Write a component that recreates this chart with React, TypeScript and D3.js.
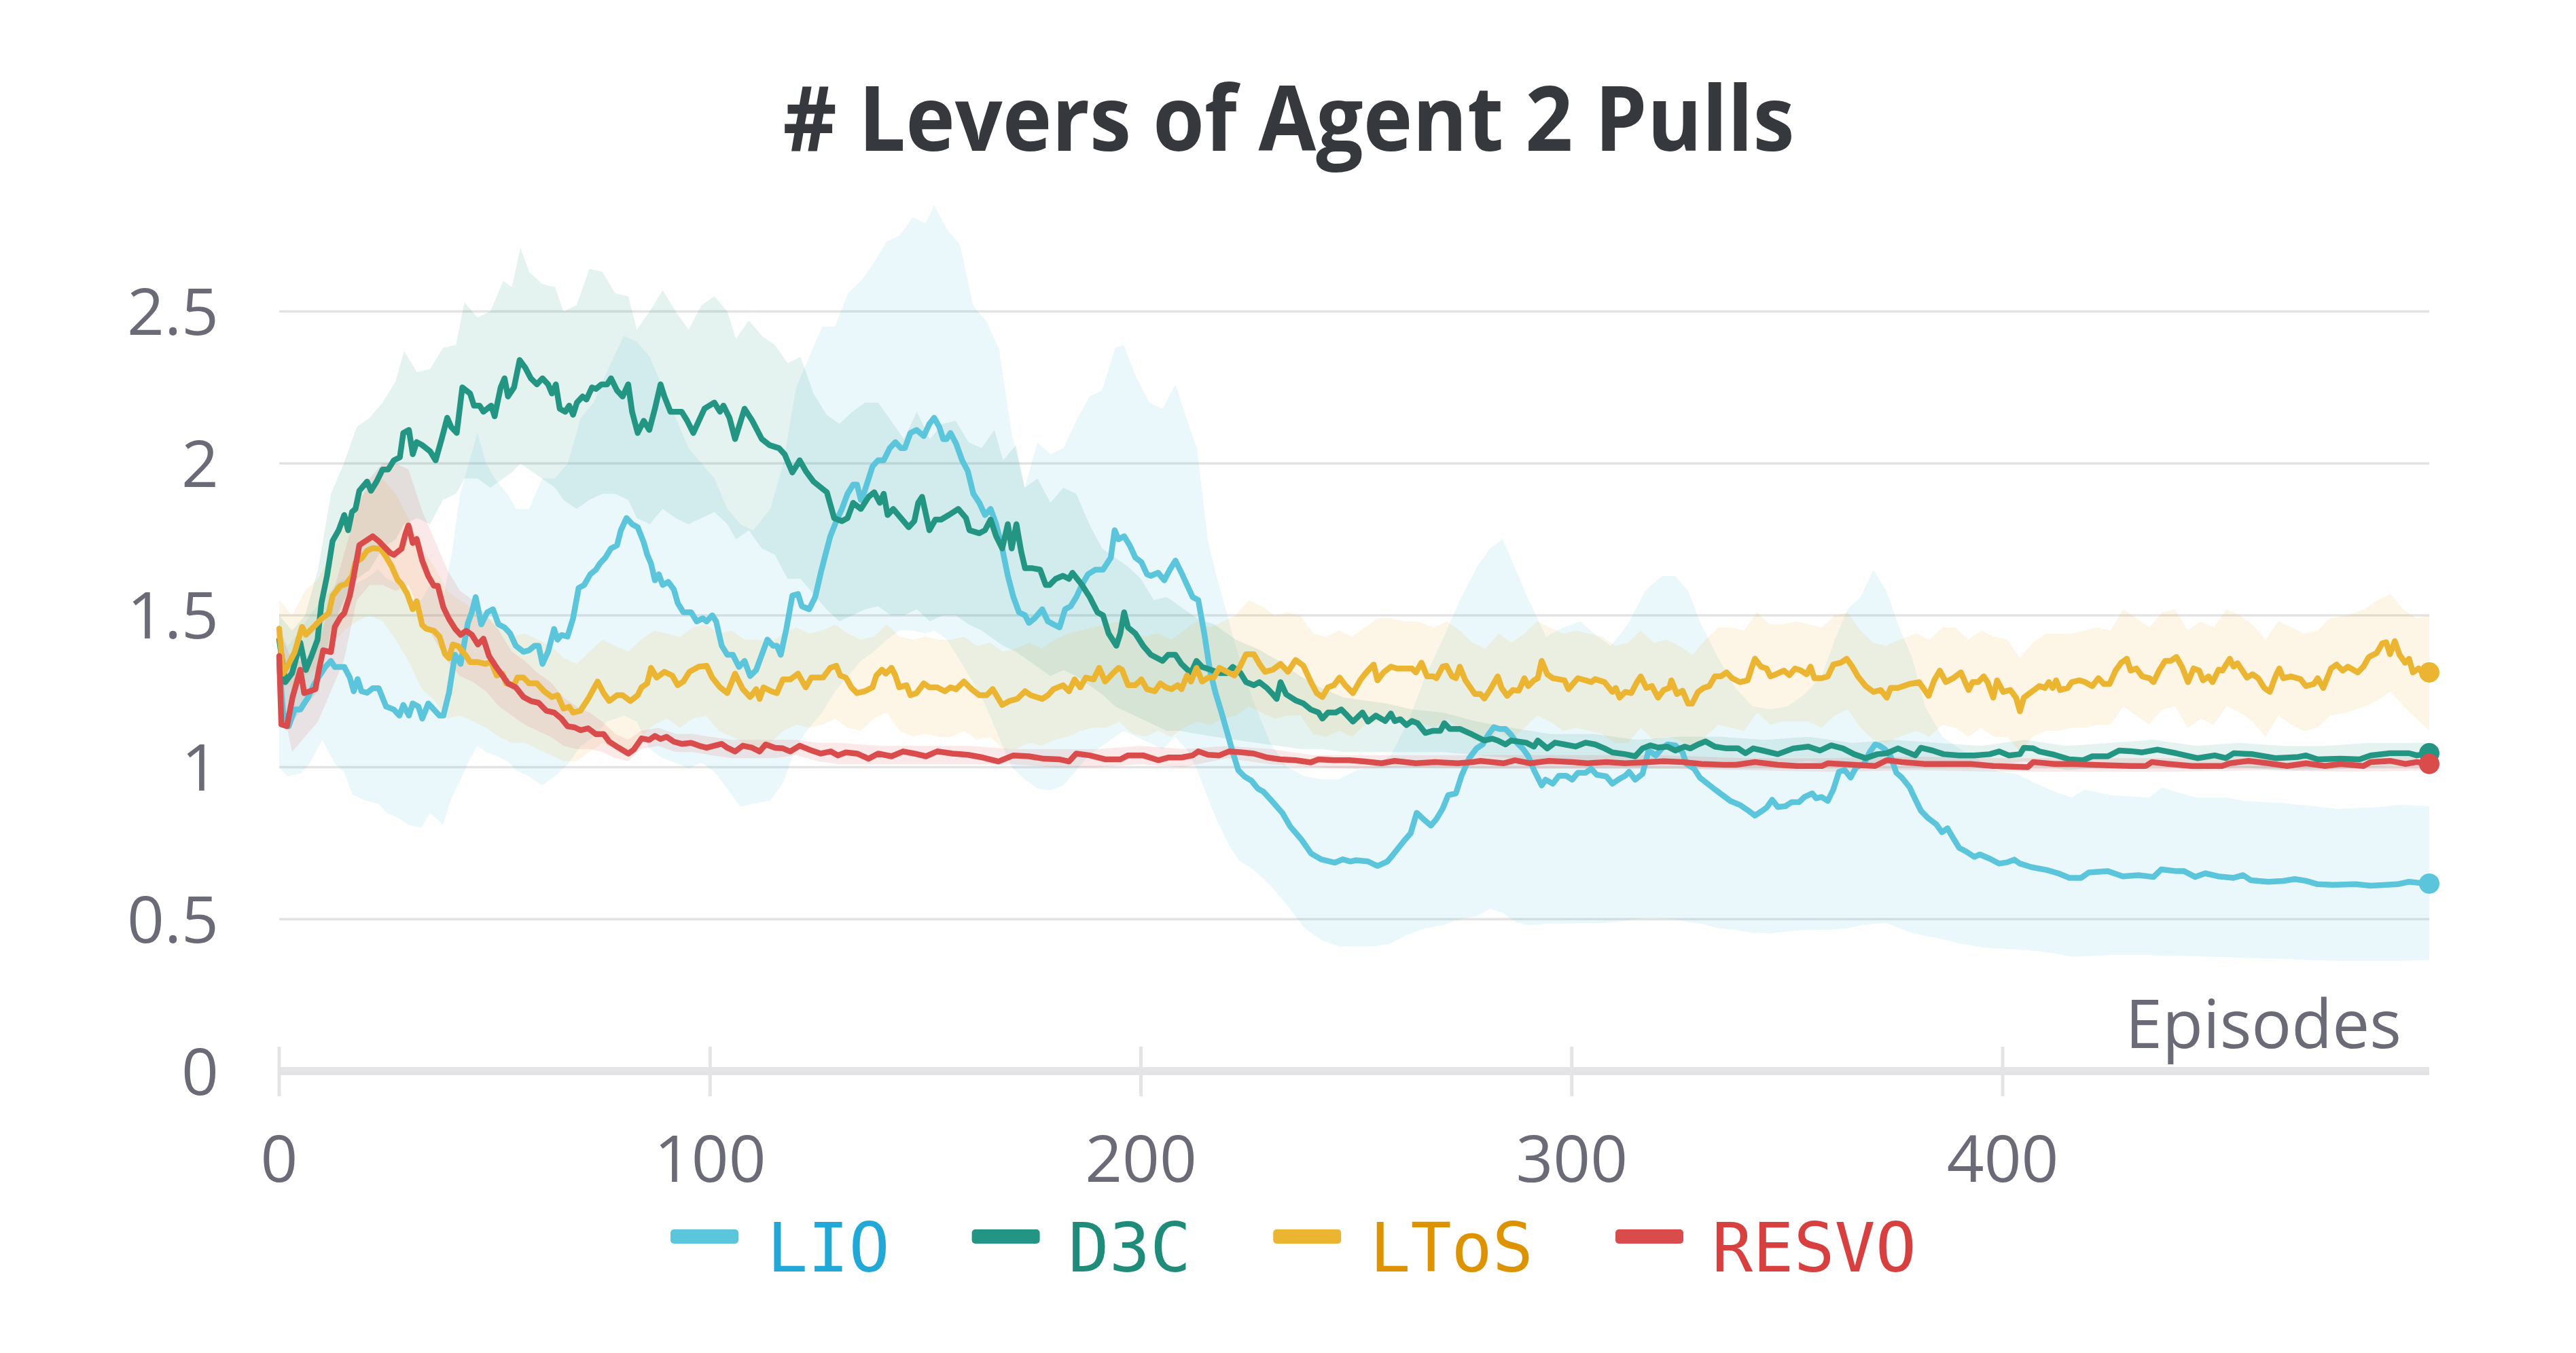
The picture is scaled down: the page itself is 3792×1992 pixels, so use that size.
import React from 'react';
import * as d3 from 'd3';

const W = 3792;
const H = 1992;

const titleText = '# Levers of Agent 2 Pulls';
const xAxisLabel = 'Episodes';
const seriesNames = ['LIO', 'D3C', 'LToS', 'RESVO'];
const lineColors = ['#5bc5db', '#229683', '#ebb431', '#da4c4c'];
const labelColors = ['#21a8d6', '#1f8c7a', '#dd9300', '#d84040'];
const xTicks = [0, 100, 200, 300, 400];
const yTicks = [0, 0.5, 1, 1.5, 2, 2.5];
const yTickLabels = ['0', '0.5', '1', '1.5', '2', '2.5'];

// [episode, mean]
const lioLine = [
  [0,1.34],[0.9,1.18],[2.2,1.135],[3.6,1.19],[4.9,1.19],[6.7,1.23],[8,1.27],[9.3,1.30],[10.7,1.33],[12,1.35],[12.9,1.33],[15.1,1.33],[16.4,1.295],[17.3,1.25],[18.2,1.29],[19.1,1.25],[20.4,1.245],[21.7,1.26],[23.1,1.26],[24.8,1.20],[26.6,1.19],[27.9,1.17],[28.8,1.205],[30.1,1.17],[31,1.21],[32.3,1.20],[33.2,1.16],[34.6,1.21],[35.9,1.19],[37.2,1.17],[38.1,1.17],[39.4,1.245],[40.8,1.37],[42.1,1.34],[43.8,1.475],[44.7,1.51],[45.6,1.56],[46.9,1.47],[48.3,1.51],[49.6,1.52],[50.9,1.47],[52.3,1.46],[53.6,1.44],[54.9,1.40],[56.7,1.38],[58,1.385],[59.3,1.40],[60.2,1.40],[61.1,1.34],[62.4,1.38],[63.8,1.455],[64.6,1.42],[65.5,1.435],[66.9,1.43],[68.2,1.49],[69.5,1.59],[70.8,1.60],[72.2,1.635],[73.5,1.65],[74.4,1.67],[75.7,1.69],[77,1.72],[78.4,1.73],[79.3,1.78],[80.6,1.82],[81.9,1.80],[83.2,1.79],[84.6,1.74],[85.4,1.70],[86.3,1.67],[87.2,1.615],[88.1,1.635],[89,1.60],[90.3,1.61],[91.6,1.585],[92.5,1.54],[93.8,1.51],[95.6,1.51],[96.9,1.48],[98.3,1.49],[99.2,1.48],[100.5,1.50],[101.4,1.48],[102.7,1.40],[104,1.37],[105.3,1.37],[106.7,1.33],[108,1.35],[109.3,1.30],[110.7,1.32],[112,1.37],[113.3,1.42],[114.6,1.40],[115.5,1.40],[116.4,1.37],[117.7,1.455],[119.1,1.565],[120.4,1.57],[121.3,1.53],[123,1.52],
  [124.4,1.56],[125.7,1.64],[126.6,1.69],[127.9,1.76],[129.3,1.81],[130.6,1.85],[131.9,1.90],[133.2,1.93],[134.1,1.93],[135,1.88],[135.9,1.91],[137.7,1.99],[139,2.01],[140.3,2.01],[141.7,2.05],[143,2.07],[144.3,2.05],[145.2,2.05],[146.5,2.10],[147.9,2.11],[149.6,2.09],[150.9,2.13],[152,2.15],[153.2,2.12],[154.1,2.08],[154.9,2.08],[155.8,2.10],[157.1,2.065],[158.5,2.01],[159.8,1.975],[161.1,1.90],[162.5,1.87],[163.8,1.83],[165.1,1.85],[166.4,1.80],[167.8,1.72],[169.1,1.63],[170.4,1.56],[171.7,1.51],[173.1,1.50],[174,1.475],[175.3,1.49],[177.1,1.52],[178.4,1.48],[179.7,1.47],[181.1,1.46],[182.4,1.52],[183.7,1.53],[185,1.56],[186.3,1.60],[187.7,1.635],[189.4,1.65],[191.2,1.65],[193,1.69],[193.9,1.78],[194.8,1.75],[196.1,1.76],[197.4,1.73],[198.7,1.69],[200.1,1.675],[201.4,1.635],[202.3,1.63],[204,1.64],[205.4,1.615],[206.7,1.65],[208,1.68],[209.4,1.64],[210.7,1.60],[212,1.56],[213.3,1.55],[214.7,1.44],[216,1.32],[217.3,1.245],[218.7,1.18],[220,1.115],[221.3,1.05],[222.6,0.99],[224,0.97],[225.7,0.955],[227.1,0.93],[228.4,0.92],
  [230.5,0.887],[232.8,0.85],[234.6,0.806],[237.3,0.761],[239.5,0.716],[241.8,0.697],[245,0.686],[246.8,0.697],[248.6,0.69],[249.9,0.694],[252.7,0.69],[254.9,0.675],[257.2,0.69],[258.5,0.712],[260.8,0.753],[262.6,0.783],[264,0.85],[265.5,0.83],[267.3,0.808],[268.6,0.83],[270,0.863],[271.3,0.908],[273.1,0.914],[274.4,0.972],[276.2,1.03],[277.9,1.062],[279.3,1.075],[280.6,1.107],[281.9,1.132],[283.2,1.126],[284.6,1.126],[285.9,1.107],[287.2,1.081],[288.6,1.062],[289.9,1.036],[291.2,0.991],[293,0.94],[293.9,0.959],[295.6,0.946],[297,0.972],[298.7,0.972],[300.1,0.959],[301.4,0.982],[303.2,0.982],[304.5,0.995],[305.8,0.975],[308,0.97],[309.4,0.946],[311.1,0.962],[312.4,0.972],[313.3,0.985],[314.7,0.959],[316.4,0.978],[317.8,1.055],[319.5,1.039],[320.9,1.062],[322.2,1.075],[324,1.072],[325.7,1.049],[326.6,1.011],[328.4,0.995],[329.7,0.966],[331.5,0.946],[333.2,0.927],[335,0.908],[336.8,0.889],[339,0.876],[340.8,0.859],[342.5,0.841],[343.9,0.854],[345.2,0.867],[346.5,0.893],[347.8,0.869],[349.6,0.872],[351,0.885],[352.7,0.885],[354,0.902],[355.8,0.914],[356.7,0.898],[358,0.902],[359.4,0.889],[360.7,0.927],[362,0.985],[363.3,0.991],[364.7,0.966],[366,1.0],[367.8,1.011],[369.1,1.049],[370.4,1.075],[371.3,1.072],[372.6,1.06],[374,1.036],[375.3,0.982],
  [376.6,0.966],[378.4,0.934],[379.7,0.895],[381,0.857],[382.8,0.831],[384.6,0.812],[385.9,0.786],[387.2,0.799],[388.5,0.767],[389.9,0.735],[391.6,0.722],[393.4,0.705],[394.7,0.713],[397,0.699],[399.2,0.683],[401,0.687],[402.7,0.696],[404,0.683],[406.7,0.671],[410.2,0.662],[412.9,0.651],[415.5,0.636],[418.2,0.636],[420,0.654],[424.4,0.658],[427.9,0.641],[431.5,0.645],[435,0.639],[436.8,0.664],[440.3,0.658],[442.1,0.658],[444.7,0.639],[447,0.651],[450,0.641],[453.6,0.636],[455.8,0.645],[457.6,0.628],[461.6,0.623],[465.1,0.626],[467.8,0.632],[470.4,0.626],[473.1,0.615],[476.6,0.613],[481.9,0.615],[485.4,0.61],[489,0.613],[491.6,0.615],[494.3,0.623],[496.9,0.619],[499,0.617],
];

const d3cLine = [
  [0,1.42],[1.4,1.28],[3,1.31],[4.9,1.41],[6.2,1.32],[7.6,1.37],[8.9,1.42],[9.8,1.54],[11.1,1.63],[12.4,1.745],[13.8,1.78],[15.1,1.83],[16,1.78],[16.9,1.84],[17.7,1.85],[18.6,1.91],[20.4,1.94],[21.3,1.91],[22.6,1.94],[24,1.98],[25.3,1.98],[26.6,2.01],[28,2.02],[28.8,2.10],[30.1,2.11],[31,2.03],[31.9,2.07],[33.2,2.06],[35,2.04],[36.3,2.01],[37.7,2.08],[39,2.15],[39.9,2.12],[41.2,2.10],[42.5,2.25],[44.3,2.23],[45.2,2.19],[46.5,2.19],[47.4,2.17],[49.2,2.19],[50,2.155],[51.4,2.25],[52.3,2.28],[53.1,2.22],[54.5,2.25],[55.8,2.34],[57.1,2.315],[58.4,2.28],[59.8,2.26],[61.1,2.28],[62.4,2.26],[63.3,2.23],[64.2,2.26],[65.1,2.18],[66.4,2.17],[67.3,2.19],[68.2,2.16],[69.1,2.20],[70.4,2.22],[71.3,2.21],[72.6,2.25],[73.5,2.245],[74.8,2.26],[76.1,2.26],[77,2.28],[78.4,2.24],[79.7,2.22],[81,2.26],[81.9,2.17],[83.2,2.10],[84.6,2.14],[85.9,2.11],[87.2,2.18],[88.5,2.26],[89.4,2.22],[90.8,2.17],[92.1,2.17],[93.4,2.17],[94.7,2.14],[96.1,2.10],[97.4,2.14],[98.7,2.18],[101,2.20],[102.3,2.17],[103.1,2.19],[104.5,2.15],[105.8,2.08],[108,2.18],[109.8,2.14],[112,2.08],[113.8,2.06],[116,2.05],[117.3,2.03],[119.1,1.97],[120.8,2.01],[122.2,1.975],[124,1.94],
  [127.1,1.905],[128.8,1.82],[130.6,1.81],[131.9,1.82],[133.2,1.87],[135,1.85],[136.8,1.89],[138.1,1.905],[139.4,1.87],[140.3,1.90],[141.2,1.83],[142.5,1.85],[144.3,1.82],[146.1,1.79],[147.4,1.81],[148.3,1.87],[149.2,1.89],[150.9,1.78],[152.3,1.815],[153.6,1.815],[155.4,1.83],[157.6,1.85],[159.4,1.82],[160.2,1.78],[162.5,1.77],[163.8,1.78],[165.1,1.815],[166.4,1.76],[167.8,1.72],[169.1,1.80],[170,1.72],[171.1,1.80],[172.2,1.71],[173.1,1.655],[174.8,1.655],[176.6,1.65],[177.9,1.60],[178.8,1.60],[180.2,1.62],[181.9,1.63],[183.3,1.62],[184.1,1.64],[186.3,1.60],[188.1,1.56],[189.9,1.51],[191.2,1.50],[192.5,1.44],[194.3,1.40],[195.2,1.44],[196.1,1.51],[197,1.46],[198.7,1.44],[200.5,1.40],[202.3,1.37],[205,1.35],[206.3,1.37],[208,1.37],[209.4,1.34],[211.6,1.31],[212.9,1.35],[214.2,1.33],[216.4,1.32],[218.2,1.31],[220,1.31],[221.3,1.33],[223.1,1.31],[224.4,1.28],[226.2,1.27],[227.5,1.28],[229.3,1.26],[230.6,1.24],[231.5,1.225],[232.4,1.28],[233.7,1.24],[235.9,1.22],[237.7,1.21],[239.4,1.19],[241.2,1.18],[242.1,1.16],[243.4,1.18],[245.2,1.18],[246.5,1.19],[247.9,1.17],[249.2,1.15],[251.4,1.18],[252.7,1.15],
  [254.5,1.17],[256.7,1.152],[258,1.177],[258.9,1.152],[260.2,1.158],[261.6,1.139],[262.9,1.152],[264.2,1.145],[266,1.113],[267.8,1.12],[269.5,1.12],[270.4,1.145],[271.7,1.126],[274,1.126],[277,1.107],[279.7,1.088],[281.5,1.094],[282.8,1.088],[284.6,1.075],[285.9,1.088],[289.4,1.081],[291.2,1.068],[292.1,1.088],[294.3,1.062],[296.1,1.081],[298.3,1.075],[300.9,1.068],[303.2,1.081],[305.4,1.075],[307.6,1.062],[309.4,1.049],[312.4,1.043],[314.7,1.036],[316.4,1.062],[318.2,1.072],[320,1.065],[322.2,1.068],[324,1.055],[326.2,1.068],[327.5,1.062],[329.3,1.075],[331,1.085],[333.2,1.068],[335.9,1.062],[338.6,1.062],[340.3,1.046],[342.1,1.062],[344.3,1.055],[347.8,1.043],[351.4,1.062],[354.9,1.068],[357.6,1.055],[360.2,1.072],[362.9,1.062],[365.5,1.043],[368.2,1.03],[370.9,1.043],[373.1,1.046],[375.7,1.062],
  [379.7,1.039],[381,1.064],[383.7,1.055],[386.3,1.043],[389.9,1.039],[393.4,1.039],[397,1.043],[399.2,1.052],[401.4,1.039],[404,1.043],[404.9,1.064],[407.1,1.062],[408.5,1.052],[412,1.041],[415.5,1.026],[418.6,1.023],[420.8,1.036],[424.4,1.036],[427,1.055],[429.7,1.053],[432.4,1.049],[435.9,1.058],[440.3,1.046],[445.2,1.03],[449.2,1.039],[451.8,1.03],[453.6,1.046],[458,1.043],[463.3,1.03],[468.6,1.034],[470.4,1.039],[473.1,1.026],[478.4,1.028],[482.8,1.026],[485.4,1.039],[489.9,1.046],[494.3,1.046],[496.1,1.039],[499,1.046],
];

const ltosLine = [
  [0,1.456],[0.9,1.308],[2.2,1.34],[3.6,1.379],[5.3,1.462],[6.2,1.436],[8,1.462],[9.8,1.488],[11.5,1.507],[12.4,1.565],[14.2,1.597],[15.5,1.603],[16.9,1.629],[17.7,1.674],[19.1,1.687],[20.4,1.712],[21.7,1.721],[23.5,1.719],[24.8,1.693],[26.1,1.661],[27.5,1.616],[28.4,1.603],[29.7,1.571],[31,1.52],[31.9,1.546],[33.2,1.468],[34.1,1.456],[35.9,1.449],[37.2,1.43],[38.5,1.372],[39.4,1.359],[40.3,1.404],[41.6,1.398],[43.4,1.366],[44.3,1.346],[46.1,1.346],[47.8,1.34],[49.2,1.346],[50.5,1.302],[51.8,1.308],[52.7,1.276],[54.5,1.27],[55.3,1.295],[56.7,1.295],[58,1.276],[59.8,1.276],[61.5,1.25],[63.3,1.231],[64.6,1.237],[66,1.193],[67.3,1.199],[68.2,1.18],[69.9,1.186],[71.7,1.225],[73.9,1.282],[75.3,1.244],[76.6,1.218],[78.4,1.237],[79.7,1.237],[81.5,1.218],[83.2,1.237],[84.1,1.263],[85.4,1.276],[86.3,1.327],[87.6,1.295],[89.4,1.314],[91.2,1.302],[92.5,1.27],[93.8,1.282],[95.2,1.314],[97.4,1.331],[99.2,1.334],[100.5,1.295],[102.3,1.263],[104,1.244],[105.8,1.308],[107.6,1.257],[109.3,1.231],[110.7,1.257],[111.5,1.225],[112.4,1.263],[114.2,1.25],[115.5,1.244],[116.9,1.289],[118.6,1.289],[120.4,1.308],[122.2,1.263],[123.5,1.295],
  [126.2,1.295],[127.9,1.327],[129.3,1.334],[130.2,1.302],[131.5,1.295],[132.8,1.263],[134.1,1.244],[135.9,1.25],[137.7,1.263],[138.6,1.302],[139.9,1.321],[140.8,1.308],[142.1,1.327],[143,1.302],[143.9,1.263],[145.6,1.27],[146.5,1.237],[147.9,1.244],[149.6,1.276],[150.9,1.263],[152.7,1.263],[154.5,1.25],[155.8,1.263],[157.1,1.257],[158.9,1.282],[160.7,1.257],[162.5,1.237],[164.2,1.237],[165.6,1.257],[167.8,1.205],[169.5,1.218],[171.3,1.225],[173.1,1.25],[174.4,1.237],[175.7,1.231],[177.1,1.225],[178.4,1.237],[179.7,1.257],[181.9,1.27],[183.3,1.25],[184.6,1.289],[185.9,1.263],[187.2,1.295],[189,1.289],[190.3,1.327],[191.7,1.282],[193.4,1.308],[194.8,1.327],[195.6,1.321],[197,1.27],[198.7,1.27],[200.1,1.289],[201.4,1.257],[203.2,1.25],[204.5,1.276],[205.8,1.263],[207.1,1.257],[208.5,1.27],[209.4,1.257],[210.7,1.302],[211.6,1.282],[212.9,1.327],[214.2,1.282],[215.6,1.295],[216.9,1.295],[218.2,1.327],[220,1.314],[221.7,1.302],[223.1,1.334],[224.4,1.372],[226.2,1.372],[227.5,1.34],[228.8,1.314],[230.6,1.321],[232.4,1.34],[234.1,1.314],[235.9,1.353],[237.7,1.334],[239.4,1.282],[240.8,1.244],[242.1,1.231],[243.4,1.263],[244.8,1.27],[246.1,1.295],[247.4,1.27],[249.2,1.244],[251,1.289],
  [252.3,1.312],[254,1.338],[254.9,1.286],[256.3,1.312],[258,1.331],[259.4,1.325],[261.1,1.325],[262.9,1.325],[263.8,1.312],[265.1,1.344],[266.4,1.299],[267.8,1.299],[268.6,1.293],[270,1.331],[270.9,1.334],[272.2,1.299],[273.1,1.293],[274,1.331],[275.3,1.286],[277.5,1.241],[278.8,1.241],[279.7,1.226],[281,1.254],[282.8,1.299],[283.7,1.261],[285,1.235],[286.3,1.254],[287.7,1.252],[289,1.293],[289.9,1.267],[291.2,1.286],[292.1,1.293],[293,1.35],[294.3,1.306],[295.6,1.293],[298.3,1.286],[299.2,1.257],[301.4,1.293],[303.2,1.286],[304.5,1.28],[305.4,1.29],[307.6,1.28],[309.4,1.248],[310.2,1.261],[311.1,1.229],[312.4,1.248],[313.8,1.244],[315.1,1.28],[316,1.299],[317.3,1.261],[318.6,1.267],[320,1.229],[321.3,1.254],[322.6,1.261],[323.1,1.286],[324.4,1.241],[325.7,1.252],[327,1.209],[327.9,1.209],[329.3,1.248],[330.6,1.261],[331.9,1.267],[333.2,1.299],[334.6,1.299],[335.9,1.312],[337.2,1.293],[339,1.28],[340.8,1.286],[341.7,1.325],[342.5,1.357],[343.9,1.331],[345.2,1.325],[346.1,1.299],[347.4,1.306],[349.2,1.318],[350.5,1.303],[351.8,1.325],[353.2,1.318],[354.5,1.306],[355.4,1.331],[356.3,1.293],[358,1.293],[359.4,1.299],[360.7,1.338],[362.4,1.344],[363.8,1.357],[365.1,1.331],[366.4,1.299],[368.2,1.267],[370,1.248],[371.7,1.254],[373.1,1.229],[374,1.261],[375.7,1.261],
  [378.4,1.274],[380.6,1.28],[382.8,1.235],[384.1,1.286],[385.4,1.318],[386.8,1.28],[388.5,1.293],[390.3,1.312],[392.1,1.254],[393,1.28],[394.3,1.28],[395.6,1.299],[396.5,1.28],[397.8,1.229],[398.7,1.286],[400.1,1.248],[401.8,1.254],[403.1,1.229],[404,1.184],[404.9,1.229],[406.7,1.248],[408.5,1.267],[409.8,1.261],[410.7,1.28],[411.6,1.261],[412.4,1.286],[413.3,1.254],[415.1,1.261],[416,1.28],[417.8,1.286],[419.1,1.28],[420.8,1.267],[422.2,1.293],[423.5,1.274],[424.8,1.274],[426.2,1.318],[427.5,1.344],[428.8,1.357],[429.7,1.318],[431,1.325],[432.4,1.299],[434.1,1.293],[435,1.28],[436.3,1.318],[437.7,1.35],[439,1.35],[440.3,1.363],[441.6,1.331],[443,1.28],[444.3,1.325],[445.6,1.318],[446.5,1.286],[447.8,1.299],[448.7,1.28],[450.1,1.321],[451,1.318],[452.7,1.357],[453.6,1.331],[454.5,1.342],[456.7,1.295],[458,1.306],[459.3,1.293],[460.7,1.261],[462,1.248],[463.3,1.299],[464.2,1.325],[465.1,1.293],[466.9,1.299],[469.1,1.29],[470.4,1.267],[472.2,1.274],[473.1,1.293],[474.4,1.261],[476.2,1.325],[477.5,1.338],[478.9,1.318],[480.1,1.331],[482.4,1.312],[483.7,1.331],[485,1.363],[486.8,1.376],[488.1,1.408],[489,1.411],[489.9,1.372],[491,1.415],[492.1,1.37],[493.4,1.344],[494.3,1.357],[495.2,1.312],[496.5,1.325],[497.8,1.306],[499,1.312],
];

const resvoLine = [
  [0,1.366],[0.5,1.141],[1.8,1.135],[3.1,1.231],[4.9,1.321],[5.8,1.244],[7.1,1.25],[8.4,1.257],[9.3,1.327],[10.2,1.385],[12,1.379],[12.9,1.462],[14.2,1.494],[15.1,1.507],[16.4,1.565],[17.3,1.629],[18.6,1.731],[20,1.744],[21.7,1.76],[23.1,1.744],[24.4,1.725],[25.7,1.706],[26.6,1.699],[28.4,1.719],[29.2,1.763],[30,1.796],[31,1.738],[31.9,1.751],[33.2,1.68],[34.6,1.629],[35.9,1.597],[36.8,1.597],[38.1,1.526],[39.4,1.488],[40.8,1.456],[42.1,1.436],[43.4,1.449],[44.7,1.436],[46.1,1.404],[47.4,1.423],[48.7,1.366],[50.5,1.327],[51.8,1.302],[53.1,1.276],[54.9,1.263],[56.7,1.231],[58.4,1.218],[60.2,1.212],[62,1.186],[63.8,1.18],[65.5,1.16],[66.9,1.135],[68.6,1.131],[69.9,1.122],[71.7,1.128],[73.5,1.109],[75.3,1.109],[76.6,1.084],[78.8,1.064],[81,1.045],[82.3,1.058],[84.1,1.095],[85.9,1.09],[87.2,1.103],[88.5,1.093],[89.9,1.1],[91.6,1.084],[93.4,1.077],[95.6,1.08],[97.4,1.071],[99.2,1.064],[101,1.071],[102.7,1.077],[104,1.064],[105.8,1.052],[107.6,1.071],[109.8,1.064],[111.5,1.052],[112.9,1.075],[115.1,1.064],[116.9,1.062],[118.6,1.052],[120.8,1.071],[123,1.058],[125.7,1.045],[128,1.052],[129.7,1.039],[131.5,1.049],[134.1,1.045],[136.8,1.028],[139,1.045],[142.1,1.036],[144.8,1.052],[147.4,1.045],[150.1,1.036],[152.7,1.052],[156.3,1.045],[159.8,1.041],[163.3,1.032],[166.9,1.019],[170.4,1.039],[174,1.036],[177.5,1.028],[181,1.026],[183.3,1.019],[185,1.045],[188.1,1.039],[191.7,1.026],[195.2,1.026],[197,1.039],[200.5,1.039],[204,1.023],[206.3,1.032],[209.4,1.032],[212,1.039],[213.3,1.052],[215.6,1.041],[218.2,1.039],[220.4,1.052],[223.5,1.049],[226.2,1.045],[229.3,1.032],[232.4,1.026],[235.9,1.023],[239.4,1.016],[241.2,1.026],[244.8,1.023],[248.3,1.023],[251.8,1.019],[255.8,1.013],[258.9,1.021],[263.8,1.013],[268.2,1.017],[273.5,1.013],[277,1.017],[278.8,1.021],[284.1,1.013],[286.8,1.023],[290.3,1.013],[294.7,1.021],[300.1,1.017],[303.6,1.013],[308,1.017],[312.4,1.013],[317.8,1.017],[321.3,1.02],[325.7,1.017],[330.1,1.011],[335.5,1.008],[338.1,1.008],[342.5,1.017],[347.8,1.008],[352.3,1.004],[358,1.004],[359.4,1.013],[365.5,1.008],[370.4,1.004],[373.1,1.023],[376.6,1.017],[381.9,1.011],[387.2,1.011],[392.5,1.011],[397.8,1.004],[405.8,1.0],[407.1,1.017],[412,1.011],[416.4,1.011],[420.8,1.008],[429.7,1.004],[433.2,1.004],[434.6,1.017],[438.5,1.011],[443.9,1.004],[450.9,1.004],[452.7,1.013],[457.1,1.021],[461.6,1.013],[466,1.004],[470.4,1.013],[474.8,1.004],[478.4,1.011],[483.7,1.004],[485.4,1.017],[489.9,1.021],[493.4,1.011],[496.1,1.017],[499,1.011],
];

// [episode, upper, lower]
const lioBand = [
  [0,1.45,1.0],[2,1.4,0.97],[5,1.45,0.98],[7,1.5,1.01],[10,1.55,1.09],[13,1.6,1.01],[15,1.62,0.985],[17,1.6,0.91],[20,1.62,0.89],[23,1.65,0.88],[25,1.62,0.85],[28,1.6,0.83],[30,1.55,0.81],[33,1.55,0.80],[35,1.6,0.85],[38,1.55,0.81],[40,1.7,0.90],[42,1.9,0.955],[44,2.0,1.02],[46,2.1,1.07],[48,2.0,1.05],[50,1.95,1.04],[53,1.9,1.02],[55,1.85,0.99],[58,1.85,0.97],[61,1.95,0.94],[64,1.95,0.97],[67,2.0,1.01],[70,2.15,1.07],[73,2.2,1.1],[76,2.3,1.15],[80,2.42,1.17],[83,2.4,1.15],[86,2.35,1.06],[89,2.25,1.03],[92,2.15,1.015],[95,2.05,0.996],[98,2.0,1.015],[101,1.95,0.985],[104,1.85,0.93],[107,1.8,0.87],[110,1.78,0.88],[114,1.85,0.89],[117,2.0,0.95],[120,2.25,1.07],[123,2.35,1.13],[126,2.45,1.18],[129,2.45,1.25],[132,2.56,1.3],[135,2.6,1.35],[138,2.66,1.38],[141,2.73,1.42],[144,2.75,1.45],[147,2.81,1.45],[150,2.79,1.44],[152,2.85,1.45],[155,2.77,1.42],[158,2.72,1.35],[161,2.52,1.28],[164,2.47,1.2],[167,2.38,1.1],[170,2.1,1.0],[173,1.92,0.96],[176,2.07,0.93],[179,2.03,0.925],[182,2.05,0.94],[185,2.14,0.99],[188,2.22,1.04],[191,2.24,1.07],[194,2.38,1.1],[196,2.39,1.12],[199,2.28,1.10],[202,2.2,1.08],[205,2.18,1.06],[208,2.26,1.1],[211,2.13,1.05],[213,2.05,0.99],[215.5,1.75,0.9],[217.5,1.63,0.83],[219.5,1.53,0.77],[221,1.45,0.73],[223,1.35,0.69],[226,1.22,0.665],[230,1.08,0.612],[234,1.0,0.545],[238,0.97,0.47],[242,0.96,0.43],[246,0.96,0.41],[250,0.99,0.41],[254,1.0,0.41],[258,1.04,0.42],[262,1.15,0.45],[266,1.3,0.47],[270,1.42,0.48],[274,1.55,0.5],[278,1.66,0.51],[281,1.72,0.535],[284,1.75,0.52],[287,1.65,0.49],[290,1.55,0.48],[294,1.43,0.485],[298,1.46,0.485],[302,1.48,0.487],[306,1.43,0.486],[309,1.40,0.49],[313,1.47,0.497],[317,1.58,0.504],[321,1.63,0.503],[324,1.63,0.5],[327,1.58,0.49],[330,1.47,0.485],[334,1.36,0.47],[338,1.26,0.465],[342,1.2,0.455],[346,1.19,0.453],[350,1.2,0.46],[354,1.24,0.465],[358,1.3,0.465],[361,1.42,0.466],[364,1.52,0.47],[367,1.56,0.48],[370,1.65,0.485],[373,1.58,0.487],[376,1.46,0.47],[379,1.36,0.455],[382,1.2,0.445],[386,1.1,0.435],[390,1.06,0.42],[395,1.02,0.408],[399,0.985,0.403],[403,0.98,0.401],[408,0.945,0.395],[412,0.92,0.388],[416,0.9,0.376],[419,0.927,0.378],[425,0.908,0.382],[434,0.9,0.382],[437,0.934,0.38],[440,0.92,0.38],[445,0.9,0.378],[452,0.9,0.375],[456,0.889,0.372],[465,0.882,0.37],[472,0.872,0.365],[478,0.863,0.363],[487,0.869,0.363],[492,0.876,0.363],[499,0.872,0.365],
];

const d3cBand = [
  [0,1.5,1.2],[3,1.45,1.15],[6,1.5,1.2],[9,1.65,1.25],[12,1.9,1.45],[15,2.0,1.55],[18,2.12,1.62],[21,2.15,1.65],[24,2.2,1.72],[27,2.27,1.75],[29,2.37,1.8],[32,2.30,1.82],[35,2.31,1.8],[38,2.38,1.88],[41,2.39,1.9],[43,2.53,1.95],[46,2.48,1.95],[49,2.5,1.92],[52,2.6,1.95],[54,2.58,1.97],[56,2.71,2.0],[58,2.63,1.98],[61,2.59,1.95],[64,2.58,1.92],[66,2.5,1.88],[69,2.52,1.85],[72,2.64,1.88],[75,2.63,1.9],[78,2.56,1.9],[81,2.55,1.88],[83,2.44,1.82],[86,2.5,1.8],[89,2.57,1.85],[92,2.5,1.82],[95,2.44,1.8],[98,2.52,1.82],[101,2.55,1.84],[104,2.5,1.8],[106,2.41,1.75],[109,2.47,1.78],[112,2.42,1.72],[115,2.39,1.7],[118,2.33,1.62],[121,2.35,1.62],[124,2.23,1.57],[127,2.16,1.52],[130,2.13,1.48],[133,2.17,1.5],[136,2.2,1.52],[139,2.2,1.53],[142,2.14,1.5],[145,2.08,1.5],[148,2.17,1.52],[151,2.08,1.48],[154,2.13,1.5],[157,2.14,1.5],[160,2.07,1.47],[163,2.05,1.45],[166,2.11,1.42],[168,2.01,1.4],[171,2.06,1.38],[173,1.92,1.36],[176,1.95,1.33],[179,1.87,1.3],[182,1.92,1.32],[185,1.9,1.3],[188,1.8,1.27],[191,1.72,1.24],[194,1.69,1.2],[197,1.66,1.18],[200,1.62,1.16],[203,1.55,1.14],[206,1.56,1.12],[209,1.53,1.12],[213,1.49,1.11],[217,1.47,1.10],[222,1.42,1.09],[227,1.39,1.08],[232,1.35,1.07],[237,1.3,1.06],[242,1.26,1.06],[247,1.23,1.05],[252,1.22,1.05],[257,1.21,1.05],[263,1.19,1.05],[270,1.18,1.05],[278,1.15,1.04],[286,1.13,1.03],[295,1.11,1.02],[305,1.11,1.02],[315,1.09,1.0],[325,1.1,1.02],[335,1.1,1.02],[345,1.09,1.01],[355,1.1,1.02],[365,1.08,1.0],[375,1.09,1.01],[385,1.08,1.01],[395,1.07,1.0],[405,1.09,1.02],[415,1.07,0.99],[425,1.08,1.0],[435,1.09,1.02],[445,1.07,0.99],[455,1.08,1.0],[465,1.07,0.99],[475,1.07,0.99],[485,1.08,1.0],[499,1.08,1.01],
];

const ltosBand = [
  [0,1.55,1.35],[3,1.5,1.25],[6,1.58,1.3],[9,1.62,1.33],[12,1.7,1.4],[15,1.8,1.45],[18,1.88,1.48],[21,1.92,1.5],[24,1.95,1.48],[27,1.9,1.42],[30,1.82,1.35],[33,1.72,1.26],[36,1.66,1.22],[39,1.58,1.16],[42,1.55,1.17],[45,1.52,1.15],[48,1.5,1.13],[51,1.47,1.1],[54,1.43,1.08],[57,1.44,1.08],[60,1.42,1.06],[63,1.4,1.04],[66,1.36,1.02],[69,1.34,1.02],[72,1.38,1.05],[75,1.42,1.08],[78,1.4,1.06],[81,1.38,1.05],[84,1.42,1.1],[87,1.45,1.14],[90,1.44,1.16],[93,1.43,1.13],[96,1.46,1.16],[99,1.47,1.17],[102,1.44,1.12],[105,1.45,1.1],[108,1.42,1.08],[111,1.42,1.07],[114,1.41,1.08],[117,1.44,1.12],[120,1.46,1.14],[123,1.44,1.13],[126,1.45,1.14],[129,1.47,1.16],[132,1.44,1.13],[135,1.42,1.12],[138,1.43,1.16],[141,1.47,1.18],[144,1.43,1.12],[147,1.42,1.1],[150,1.43,1.11],[153,1.42,1.1],[156,1.42,1.1],[159,1.43,1.12],[162,1.4,1.09],[165,1.41,1.1],[168,1.38,1.06],[171,1.39,1.06],[174,1.41,1.08],[177,1.39,1.07],[180,1.42,1.09],[183,1.44,1.1],[186,1.45,1.12],[189,1.46,1.13],[192,1.47,1.13],[195,1.48,1.15],[198,1.44,1.11],[201,1.43,1.1],[204,1.44,1.12],[207,1.42,1.1],[210,1.45,1.13],[213,1.48,1.15],[216,1.46,1.14],[219,1.48,1.16],[222,1.5,1.17],[225,1.55,1.2],[228,1.53,1.18],[231,1.5,1.16],[234,1.51,1.17],[237,1.5,1.17],[240,1.44,1.11],[243,1.43,1.1],[246,1.45,1.12],[249,1.43,1.1],[252,1.46,1.14],[255,1.49,1.15],[258,1.49,1.17],[261,1.48,1.16],[264,1.48,1.15],[268,1.46,1.13],[271,1.48,1.16],[274,1.45,1.13],[277,1.41,1.09],[280,1.39,1.08],[283,1.44,1.12],[286,1.41,1.09],[289,1.44,1.13],[292,1.48,1.17],[295,1.46,1.15],[298,1.44,1.12],[301,1.45,1.13],[304,1.44,1.12],[307,1.43,1.11],[310,1.4,1.08],[313,1.41,1.08],[316,1.45,1.13],[319,1.41,1.09],[322,1.42,1.1],[325,1.4,1.09],[328,1.37,1.06],[331,1.42,1.1],[334,1.46,1.14],[337,1.46,1.13],[340,1.45,1.12],[343,1.51,1.18],[346,1.47,1.14],[349,1.47,1.15],[352,1.48,1.15],[355,1.47,1.15],[358,1.46,1.13],[361,1.5,1.17],[364,1.51,1.19],[367,1.45,1.13],[370,1.41,1.09],[373,1.4,1.08],[376,1.42,1.1],[380,1.44,1.12],[383,1.42,1.1],[386,1.46,1.14],[389,1.46,1.13],[392,1.42,1.1],[395,1.45,1.13],[398,1.43,1.1],[401,1.42,1.1],[404,1.36,1.05],[407,1.41,1.1],[410,1.44,1.12],[413,1.44,1.12],[416,1.44,1.13],[419,1.45,1.13],[422,1.46,1.14],[425,1.45,1.14],[428,1.52,1.2],[431,1.49,1.17],[434,1.46,1.14],[437,1.51,1.19],[440,1.52,1.2],[443,1.45,1.13],[446,1.48,1.16],[449,1.46,1.14],[452,1.52,1.2],[455,1.5,1.18],[458,1.47,1.15],[461,1.42,1.1],[464,1.48,1.17],[467,1.46,1.14],[470,1.44,1.12],[473,1.45,1.13],[476,1.49,1.17],[480,1.5,1.18],[484,1.52,1.2],[487,1.55,1.22],[490,1.57,1.25],[493,1.52,1.2],[496,1.49,1.16],[499,1.5,1.12],
];

const resvoBand = [
  [0,1.45,1.25],[3,1.35,1.05],[6,1.35,1.1],[9,1.4,1.15],[12,1.55,1.25],[15,1.7,1.35],[18,1.85,1.55],[21,1.95,1.6],[24,2.0,1.6],[27,2.0,1.58],[30,1.98,1.6],[33,1.85,1.5],[36,1.75,1.42],[39,1.65,1.35],[42,1.58,1.3],[45,1.55,1.28],[48,1.5,1.25],[51,1.45,1.2],[54,1.38,1.17],[57,1.35,1.14],[60,1.31,1.12],[63,1.28,1.1],[66,1.23,1.07],[69,1.2,1.06],[72,1.18,1.06],[75,1.15,1.05],[78,1.11,1.03],[81,1.09,1.02],[84,1.12,1.06],[88,1.13,1.07],[92,1.11,1.05],[96,1.11,1.05],[100,1.1,1.04],[105,1.09,1.03],[110,1.09,1.03],[115,1.09,1.03],[120,1.09,1.04],[125,1.08,1.02],[130,1.08,1.01],[140,1.07,1.01],[150,1.07,1.01],[160,1.07,1.01],[170,1.06,1.01],[180,1.06,1.0],[190,1.06,1.0],[200,1.07,1.01],[210,1.06,1.0],[220,1.07,1.03],[230,1.06,1.01],[240,1.04,1.0],[250,1.04,0.995],[260,1.04,1.0],[280,1.04,0.995],[300,1.04,0.995],[320,1.04,0.995],[340,1.03,0.99],[360,1.03,0.985],[380,1.035,0.99],[400,1.03,0.985],[420,1.03,0.985],[440,1.03,0.985],[460,1.035,0.99],[480,1.03,0.985],[499,1.035,0.99],
];

const seriesLines = [lioLine, d3cLine, ltosLine, resvoLine];
const seriesBands = [lioBand, d3cBand, ltosBand, resvoBand];

export default function App() {
  const x = d3.scaleLinear().domain([0, 499]).range([411, 3576]);
  const y = d3.scaleLinear().domain([0, 2.5]).range([1577, 458.5]);
  const line = d3.line<number[]>().x((d) => x(d[0])).y((d) => y(d[1]));
  const area = d3
    .area<number[]>()
    .x((d) => x(d[0]))
    .y0((d) => y(d[2]))
    .y1((d) => y(d[1]));

  const tickFont = '"Open Sans", "Noto Sans", sans-serif';
  const tickColor = '#6b6b78';

  // legend layout
  const charW = 60.2;
  const legendItems: { name: string; sx: number; tx: number; i: number }[] = [];
  let cursor = 987;
  seriesNames.forEach((name, i) => {
    legendItems.push({ name, sx: cursor, tx: cursor + 142, i });
    cursor += 142 + name.length * charW + 121;
  });

  return (
    <svg
      width={W}
      height={H}
      viewBox={`0 0 ${W} ${H}`}
      style={{ position: 'absolute', left: 0, top: 0, display: 'block', background: '#ffffff' }}
    >
      <rect x={0} y={0} width={W} height={H} fill="#ffffff" />
      <text
        x={1897}
        y={222}
        textAnchor="middle"
        fontFamily={tickFont}
        fontWeight={700}
        fontSize={132}
        fill="#35383c"
        textLength={1489}
        lengthAdjust="spacingAndGlyphs"
      >
        {titleText}
      </text>

      {/* gridlines */}
      {yTicks.filter((t) => t > 0).map((t) => (
        <line key={'g' + t} x1={x(0)} x2={x(499)} y1={y(t)} y2={y(t)} stroke="#e3e3e3" strokeWidth={3.5} />
      ))}

      {/* x ticks */}
      {xTicks.map((t) => (
        <line key={'xt' + t} x1={x(t)} x2={x(t)} y1={1541} y2={1614} stroke="#e4e4e6" strokeWidth={5} />
      ))}
      {/* baseline */}
      <line x1={x(0)} x2={x(499)} y1={y(0)} y2={y(0)} stroke="#e4e4e6" strokeWidth={12} />

      {/* bands */}
      {seriesBands.map((b, i) => (
        <path key={'b' + i} d={area(b) || ''} fill={lineColors[i]} fillOpacity={0.12} stroke="none" />
      ))}

      {/* lines */}
      {seriesLines.map((l, i) => (
        <path
          key={'l' + i}
          d={line(l) || ''}
          fill="none"
          stroke={lineColors[i]}
          strokeWidth={8.5}
          strokeLinejoin="round"
          strokeLinecap="round"
        />
      ))}
      {seriesLines.map((l, i) => {
        const last = l[l.length - 1];
        return <circle key={'c' + i} cx={x(last[0])} cy={y(last[1])} r={15} fill={lineColors[i]} />;
      })}

      {/* y labels */}
      {yTicks.map((t, k) => (
        <text
          key={'yl' + t}
          x={322}
          y={y(t)}
          dy="0.36em"
          textAnchor="end"
          fontFamily={tickFont}
          fontSize={96}
          fill={tickColor}
        >
          {yTickLabels[k]}
        </text>
      ))}

      {/* x labels */}
      {xTicks.map((t) => (
        <text key={'xl' + t} x={x(t)} y={1740} textAnchor="middle" fontFamily={tickFont} fontSize={96} fill={tickColor}>
          {String(t)}
        </text>
      ))}

      <text x={3535} y={1543} textAnchor="end" fontFamily={tickFont} fontSize={98} fill={tickColor}>
        {xAxisLabel}
      </text>

      {/* legend */}
      {legendItems.map((it) => (
        <g key={'lg' + it.name}>
          <rect x={it.sx} y={1810} width={100} height={21} rx={5} fill={lineColors[it.i]} />
          <text
            x={it.tx}
            y={1872}
            fontFamily='"DejaVu Sans Mono", "Liberation Mono", monospace'
            fontSize={100}
            fill={labelColors[it.i]}
          >
            {it.name}
          </text>
        </g>
      ))}
    </svg>
  );
}
